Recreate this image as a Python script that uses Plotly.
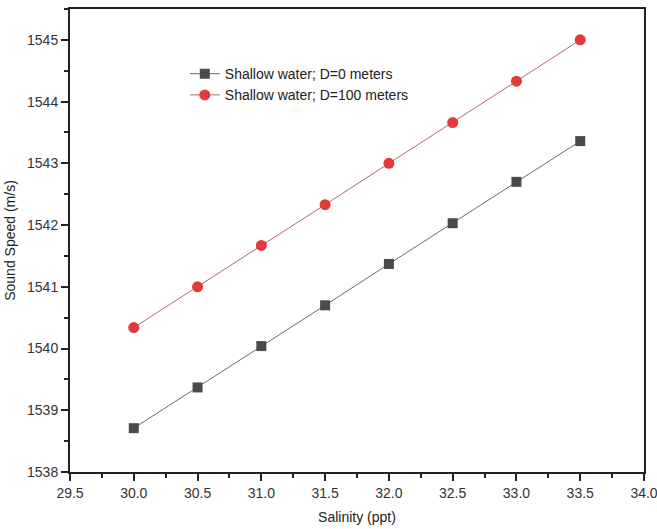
import plotly.graph_objects as go

# Salinity (ppt) on the x axis
salinity = [30.0, 30.5, 31.0, 31.5, 32.0, 32.5, 33.0, 33.5]

# Sound speed (m/s) for each depth
speed_d0 = [1538.71, 1539.37, 1540.04, 1540.70, 1541.37, 1542.03, 1542.70, 1543.36]
speed_d100 = [1540.34, 1541.00, 1541.67, 1542.33, 1543.00, 1543.66, 1544.33, 1545.00]

series_names = ["Shallow water; D=0 meters", "Shallow water; D=100 meters"]

x_ticks = [29.5, 30.0, 30.5, 31.0, 31.5, 32.0, 32.5, 33.0, 33.5, 34.0]
y_ticks = [1538, 1539, 1540, 1541, 1542, 1543, 1544, 1545]

fig = go.Figure()
fig.add_trace(go.Scatter(
    x=salinity, y=speed_d0, mode="lines+markers", name=series_names[0],
    line=dict(color="#6a6a6a", width=1),
    marker=dict(symbol="square", size=10, color="#4a4a4a"),
))
fig.add_trace(go.Scatter(
    x=salinity, y=speed_d100, mode="lines+markers", name=series_names[1],
    line=dict(color="#b06a6a", width=1),
    marker=dict(symbol="circle", size=11, color="#e23a3a"),
))

axis_common = dict(
    showline=True, linecolor="#222222", linewidth=2, mirror=True,
    ticks="outside", ticklen=7, tickwidth=2, tickcolor="#222222",
    showgrid=False, zeroline=False, automargin=False,
    ticklabeloverflow="allow",
    tickfont=dict(family="Liberation Sans, Arial", size=14, color="#333333"),
    title_font=dict(family="Liberation Sans, Arial", size=14, color="#222222"),
)

fig.update_xaxes(
    range=[29.5, 34.0], tickvals=x_ticks,
    ticktext=[f"{v:.1f}" for v in x_ticks],
    minor=dict(ticks="outside", ticklen=4, tickwidth=2, tickcolor="#222222", dtick=0.25),
    title_text="Salinity (ppt)", title_standoff=12,
    **axis_common,
)
fig.update_yaxes(
    range=[1538, 1545.5], tickvals=y_ticks,
    minor=dict(ticks="outside", ticklen=4, tickwidth=2, tickcolor="#222222", dtick=0.5),
    title_text="Sound Speed (m/s)", title_standoff=8,
    **axis_common,
)

fig.update_layout(
    width=657, height=529,
    margin=dict(l=70, r=13, t=9, b=57),
    plot_bgcolor="white", paper_bgcolor="white",
    showlegend=True,
    legend=dict(
        x=0.2, y=0.894, xanchor="left", yanchor="top",
        bgcolor="rgba(0,0,0,0)", borderwidth=0,
        font=dict(family="Liberation Sans, Arial", size=14, color="#222222"),
        tracegroupgap=0, itemwidth=30,
    ),
)

fig.write_html("out.html")
